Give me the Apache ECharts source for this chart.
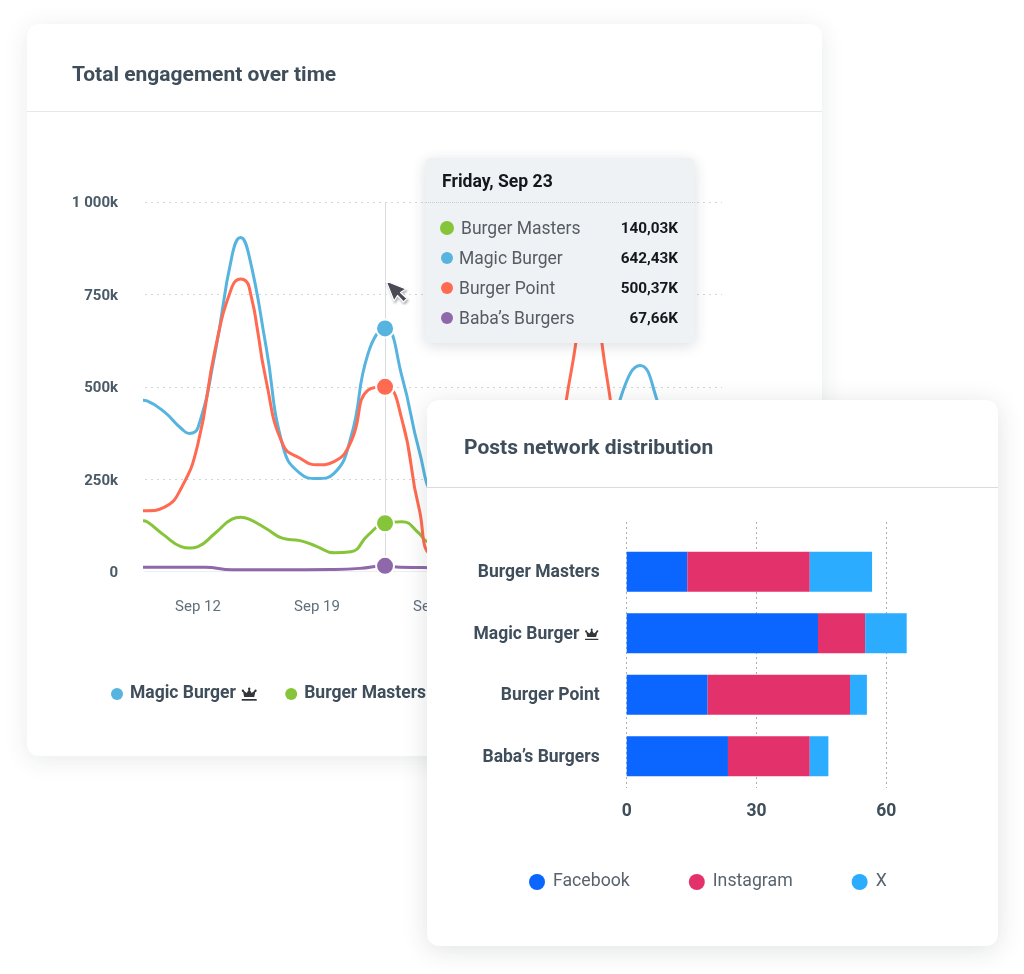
<!DOCTYPE html>
<html>
<head>
<meta charset="utf-8">
<script src="https://cdn.jsdelivr.net/npm/echarts@6/dist/echarts.min.js"></script>
<style>
html,body{margin:0;padding:0;background:#fff;width:1024px;height:974px;overflow:hidden;font-family:Roboto,sans-serif}
.card{position:absolute;background:#fff;border-radius:12px;box-sizing:border-box}
#card1{left:27px;top:24px;width:795px;height:732px;box-shadow:0 4px 24px rgba(40,50,60,.10)}
#card2{left:427px;top:400px;width:571px;height:546px;box-shadow:0 4px 26px rgba(40,50,60,.14)}
.layer{position:absolute;left:0;top:0;width:1024px;height:974px}
#tip{position:absolute;left:425px;top:158px;width:270px;height:185px;background:#eff2f5;border-radius:6px;box-shadow:0 3px 14px rgba(40,50,60,.16)}
#tip .h{position:absolute;left:17px;top:12px;font-size:17.6px;font-weight:700;color:#14181c;line-height:22px}
#tip .sep{position:absolute;left:0;right:0;top:44px;border-top:1px dotted #c9cdd1}
#tip .dot{position:absolute;border-radius:50%}
#tip .n{position:absolute;font-size:17.5px;color:#555c63;line-height:22px;white-space:nowrap}
#tip .v{position:absolute;right:17px;font-size:15.3px;font-weight:700;color:#14181c;line-height:22px}
#cursor{position:absolute;left:384px;top:279px;width:26px;height:26px}
</style>
</head>
<body>
<div class="card" id="card1"></div>
<div class="layer" id="lineChart"></div>
<div id="tip"></div>
<svg id="cursor" viewBox="0 0 26 26"><path d="M2 2 L10 22 L13.500 16.500 L19.500 23 L23 19.500 L16.500 13.500 L22 10 Z" fill="#4a4a57" stroke="#fff" stroke-width="1.2" stroke-linejoin="round" style="filter:drop-shadow(1px 2px 1px rgba(0,0,0,.3))"/></svg>
<div class="card" id="card2"></div>
<div class="layer" id="barChart"></div>
<script>
// ---------- Line chart data: [day of September (continuing past 30), value in k]
const magicBurger = [[8.76,464],[9,462],[10,433],[11,388],[11.5,374],[12,390],[13,591],[14,855],[14.5,904],[15,855],[16,609],[17,338],[18,266],[19,252],[20,266],[21,365],[22,590],[23,658],[24,527],[25,329],[26,190],[28,110],[31,120],[33,170],[35,230],[36,300],[37,490],[38,558],[39,464],[40,290],[41,200],[42.82,150]];
const burgerMasters = [[8.76,138],[9,135],[10,99],[11,68],[11.5,64],[12,68],[13,104],[14,142],[14.5,147],[15,142],[16,117],[17,90],[18,84],[19,68],[20,51],[21,54],[22,99],[23,131],[24,135],[25,104],[25.5,81],[28,60],[33,90],[38,110],[42.82,70]];
const burgerPoint = [[8.76,165],[9,165],[10,174],[11,225],[12,347],[13,600],[14,771],[14.5,792],[15,771],[16,518],[17,343],[18,307],[19,289],[20,298],[21,352],[22,491],[23,500],[24,410],[25,171],[26,40],[29,30],[32,150],[33,300],[34,555],[35,790],[36,540],[37,250],[38,120],[42.82,80]];
const babasBurgers = [[8.47,12],[12.41,12],[14,5],[16.82,5],[19.76,6],[21.53,9],[23,16],[23.88,12],[25.65,11],[33.7,10],[42.82,10]];
const lineNames = ['Magic Burger','Burger Masters','Burger Point',"Baba's Burgers"];
const lineColors = ['#56b4df','#86c43a','#ff6a50','#8f68ab'];
const lineSets = [magicBurger,burgerMasters,burgerPoint,babasBurgers];
const yTicks = {0:'0',250:'250k',500:'500k',750:'750k',1000:'1 000k'};
const dateTicks = {12:'Sep 12',19:'Sep 19',26:'Sep 26'};
const hoverDay = 23;

// ---------- Tooltip text
const tipTitle = 'Friday, Sep 23';
const tipRows = [['Burger Masters','140,03K','#86c43a',14,461],['Magic Burger','642,43K','#56b4df',12,459],['Burger Point','500,37K','#ff6a50',12,459],['Baba’s Burgers','67,66K','#8f68ab',12,459]];

// ---------- Bar chart data
const barCategories = ['Burger Masters','Magic Burger','Burger Point','Baba’s Burgers'];
const facebook = [14.0,44.2,18.7,23.4];
const instagram = [28.3,10.9,32.9,18.9];
const xNetwork = [14.4,9.7,3.9,4.3];
const barNames = ['Facebook','Instagram','X'];
const barColors = ['#0a66ff','#e3326b','#2bacff'];
const barTicks = [0,30,60];

const crown = 'data:image/svg+xml;utf8,' + encodeURIComponent('<svg xmlns="http://www.w3.org/2000/svg" width="18" height="16" viewBox="0 0 18 16"><path d="M9 1.5a1.3 1.3 0 0 1 .6 2.4L11.5 7l2.6-2a1.2 1.2 0 1 1 1 .9L14 11H4L2.900 5.900a1.2 1.2 0 1 1 1-.9l2.600 2 1.900-3.100A1.300 1.300 0 0 1 9 1.500z" fill="#33363a"/><rect x="1.500" y="13" width="15" height="1.700" fill="#33363a"/></svg>');
const crownRich = {crown:{width:18,height:16,backgroundColor:{image:crown}}};
const crownRichSmall = {crown:{width:16,height:14,backgroundColor:{image:crown}}};

const ink = '#3f4e5a';
const titleStyle = {fontFamily:'Roboto',fontSize:21,fontWeight:700,color:ink};

// tooltip
const tip = document.getElementById('tip');
let html = '<div class="h">'+tipTitle+'</div><div class="sep"></div>';
tipRows.forEach((r,i)=>{
  const y = 70 + i*30;
  html += '<div class="dot" style="left:'+(22-r[3]/2)+'px;top:'+(y-r[3]/2)+'px;width:'+r[3]+'px;height:'+r[3]+'px;background:'+r[2]+'"></div>';
  html += '<div class="n" style="left:'+(r[4]-425)+'px;top:'+(y-11)+'px">'+r[0]+'</div>';
  html += '<div class="v" style="top:'+(y-11)+'px">'+r[1]+'</div>';
});
tip.innerHTML = html;

// line chart
const lc = echarts.init(document.getElementById('lineChart'),null,{width:1024,height:974});
lc.setOption({
  animation:false,
  title:{text:'Total engagement over time',left:72,top:65,textStyle:titleStyle,padding:0},
  graphic:[{type:'rect',silent:true,shape:{x:27,y:111,width:795,height:1},style:{fill:'#e6e8ea'}}],
  legend:{left:111,top:685,itemWidth:12,itemHeight:12,itemGap:27,icon:'circle',padding:0,
    textStyle:{fontFamily:'Roboto',fontSize:17.5,fontWeight:700,color:ink,rich:crownRich,padding:[0,0,0,2]},
    formatter:n=>n==='Magic Burger'?n+' {crown|}':n},
  grid:{left:145,top:202,width:577,height:369.7},
  xAxis:{type:'value',min:8.88,max:42.82,axisLine:{show:true,lineStyle:{color:'#eceef0',width:1}},axisTick:{show:false},splitLine:{show:false},
    axisLabel:{customValues:Object.keys(dateTicks).map(Number),formatter:v=>dateTicks[v]||'',fontFamily:'Roboto',fontSize:15,color:'#5f6f7b',margin:28}},
  yAxis:{type:'value',min:0,max:1000,interval:250,axisLine:{show:false},axisTick:{show:false},
    splitLine:{lineStyle:{type:[2,4],color:'#d3d6d9',width:1},showMinLine:false},
    axisLabel:{formatter:v=>'{t|'+yTicks[v]+'}',margin:27,
      rich:{t:{fontFamily:'Roboto',fontSize:15,fontWeight:700,color:'#4a5a66',padding:[3,0,0,0]}}}},
  series:lineNames.map((name,i)=>({
    name,type:'line',smooth:0.5,showAllSymbol:true,clip:false,
    lineStyle:{width:3,color:lineColors[i]},itemStyle:{color:lineColors[i]},color:lineColors[i],
    emphasis:{disabled:true},z:2+(i===0?0:i),
    data:lineSets[i].map(([d,v])=>d===hoverDay
      ?{value:[d,v],symbol:'circle',symbolSize:18,itemStyle:{color:lineColors[i],borderColor:'#fff',borderWidth:2,opacity:1}}
      :{value:[d,v],symbol:'none'}),
    markLine:i===0?{silent:true,symbol:'none',label:{show:false},z:1,lineStyle:{color:'#d9dcdf',width:1,type:'solid'},data:[{xAxis:hoverDay}]}:undefined
  }))
});

// bar chart
const bc = echarts.init(document.getElementById('barChart'),null,{width:1024,height:974});
bc.setOption({
  animation:false,
  title:{text:'Posts network distribution',left:464,top:438,textStyle:titleStyle,padding:0},
  graphic:[{type:'rect',silent:true,shape:{x:427,y:487,width:571,height:1},style:{fill:'#d9dcdf'}}],
  legend:{left:529,top:873,itemWidth:16,itemHeight:16,itemGap:59,icon:'circle',padding:0,
    textStyle:{fontFamily:'Roboto',fontSize:17.7,color:'#59636c',padding:[0,0,0,3]}},
  grid:[{left:626.7,top:522,width:280,height:266},{left:626.7,top:541,width:280,height:246}],
  xAxis:[
    {gridIndex:0,type:'value',min:0,max:64.7,interval:30,axisLine:{show:false},axisTick:{show:false},
     splitLine:{showMaxLine:false,lineStyle:{type:[2,3],color:'#a9aeb3',width:1}},
     axisLabel:{customValues:barTicks,fontFamily:'Roboto',fontSize:17.5,fontWeight:700,color:ink,margin:15}},
    {gridIndex:1,type:'value',min:0,max:64.7,show:false}
  ],
  yAxis:[
    {gridIndex:0,type:'value',min:0,max:1,show:false},
    {gridIndex:1,type:'category',inverse:true,data:barCategories,axisLine:{show:false},axisTick:{show:false},
     axisLabel:{fontFamily:'Roboto',fontSize:17.5,fontWeight:700,color:ink,margin:27,padding:[2,0,0,0],rich:crownRichSmall,
       formatter:n=>n==='Magic Burger'?n+' {crown|}':n}}
  ],
  series:[facebook,instagram,xNetwork].map((d,i)=>({
    name:barNames[i],type:'bar',stack:'n',xAxisIndex:1,yAxisIndex:1,barWidth:40,
    itemStyle:{color:barColors[i]},color:barColors[i],emphasis:{disabled:true},data:d
  }))
});
</script>
</body>
</html>
